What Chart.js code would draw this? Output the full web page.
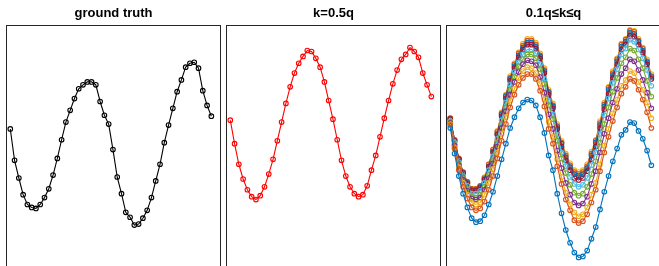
<!DOCTYPE html>
<html>
<head>
<meta charset="utf-8">
<script src="https://cdn.jsdelivr.net/npm/chart.js@4/dist/chart.umd.min.js"></script>
<style>
  html, body { margin: 0; padding: 0; background: #fff; overflow: hidden; width: 659px; height: 266px; }
  .panel { position: absolute; top: 0; }
</style>
</head>
<body>
<canvas id="c1" class="panel" style="left:0px" width="225" height="290"></canvas>
<canvas id="c2" class="panel" style="left:220px" width="225" height="290"></canvas>
<canvas id="c3" class="panel" style="left:440px" width="225" height="290"></canvas>
<script>
// ---- data ----
const titles = ["ground truth", "k=0.5q", "0.1q\u2264k\u2264q"];
const xIndex = [1,2,3,4,5,6,7,8,9,10,11,12,13,14,15,16,17,18,19,20,21,22,23,24,25,26,27,28,29,30,31,32,33,34,35,36,37,38,39,40,41,42,43,44,45,46,47,48];

const groundTruth = [1.35,1.03,0.85,0.68,0.58,0.55,0.54,0.58,0.65,0.74,0.88,1.05,1.24,1.42,1.54,1.66,1.76,1.80,1.83,1.83,1.80,1.63,1.49,1.40,1.14,0.86,0.69,0.50,0.45,0.37,0.38,0.44,0.52,0.65,0.82,0.99,1.21,1.39,1.56,1.73,1.85,1.98,2.02,2.03,1.97,1.74,1.59,1.48];

const kHalf = [1.44,1.20,0.99,0.84,0.73,0.66,0.63,0.67,0.76,0.89,1.04,1.23,1.42,1.61,1.78,1.92,2.02,2.09,2.15,2.14,2.07,1.98,1.83,1.64,1.45,1.24,1.03,0.87,0.76,0.69,0.66,0.68,0.77,0.93,1.08,1.27,1.46,1.64,1.81,1.95,2.06,2.11,2.18,2.14,2.08,1.92,1.80,1.68];

const k01 = [1.36,1.10,0.87,0.69,0.55,0.44,0.40,0.41,0.47,0.58,0.71,0.87,1.04,1.20,1.36,1.47,1.56,1.62,1.65,1.64,1.59,1.47,1.31,1.08,0.93,0.69,0.49,0.32,0.19,0.09,0.04,0.05,0.11,0.23,0.35,0.53,0.71,0.87,1.02,1.15,1.29,1.34,1.42,1.41,1.33,1.25,1.13,0.98];
const k02 = [1.39,1.15,0.93,0.76,0.64,0.55,0.52,0.54,0.61,0.73,0.87,1.05,1.23,1.40,1.57,1.70,1.80,1.87,1.91,1.91,1.86,1.74,1.58,1.35,1.20,0.97,0.79,0.63,0.52,0.42,0.39,0.41,0.48,0.60,0.73,0.92,1.11,1.27,1.43,1.57,1.71,1.78,1.86,1.84,1.75,1.65,1.52,1.36];
const k03 = [1.40,1.16,0.96,0.80,0.68,0.60,0.58,0.60,0.68,0.80,0.94,1.11,1.30,1.47,1.64,1.76,1.87,1.94,1.98,1.97,1.92,1.81,1.65,1.42,1.27,1.04,0.86,0.70,0.58,0.50,0.46,0.48,0.55,0.68,0.80,0.99,1.18,1.35,1.51,1.65,1.79,1.85,1.94,1.92,1.83,1.75,1.62,1.46];
const k04 = [1.41,1.18,0.98,0.83,0.72,0.64,0.63,0.65,0.73,0.85,1.00,1.17,1.36,1.53,1.70,1.83,1.93,2.01,2.05,2.04,2.00,1.88,1.72,1.50,1.35,1.13,0.95,0.80,0.68,0.60,0.57,0.59,0.66,0.79,0.92,1.11,1.30,1.46,1.62,1.76,1.91,1.97,2.06,2.04,1.95,1.85,1.72,1.56];
const k05 = [1.42,1.19,0.99,0.85,0.74,0.66,0.65,0.68,0.76,0.88,1.03,1.21,1.40,1.57,1.75,1.88,1.99,2.06,2.11,2.11,2.07,1.96,1.81,1.59,1.45,1.23,1.05,0.90,0.78,0.70,0.67,0.69,0.76,0.89,1.02,1.21,1.40,1.57,1.73,1.87,2.02,2.08,2.17,2.15,2.06,1.97,1.84,1.68];
const k06 = [1.43,1.21,1.01,0.87,0.77,0.69,0.69,0.72,0.80,0.93,1.07,1.25,1.44,1.62,1.80,1.93,2.03,2.11,2.16,2.16,2.12,2.01,1.86,1.64,1.50,1.29,1.11,0.97,0.86,0.79,0.76,0.78,0.85,0.98,1.11,1.30,1.49,1.66,1.82,1.96,2.11,2.17,2.26,2.24,2.16,2.07,1.95,1.79];
const k07 = [1.45,1.23,1.04,0.90,0.79,0.72,0.72,0.75,0.83,0.96,1.11,1.29,1.48,1.66,1.84,1.97,2.08,2.16,2.21,2.21,2.17,2.07,1.92,1.70,1.56,1.35,1.17,1.03,0.93,0.85,0.83,0.85,0.92,1.04,1.17,1.36,1.55,1.71,1.87,2.01,2.16,2.21,2.30,2.29,2.21,2.13,2.01,1.86];
const k08 = [1.45,1.23,1.04,0.90,0.80,0.73,0.73,0.76,0.84,0.97,1.12,1.30,1.50,1.68,1.86,1.99,2.10,2.18,2.23,2.23,2.19,2.09,1.94,1.72,1.58,1.37,1.20,1.06,0.96,0.89,0.87,0.89,0.95,1.08,1.21,1.39,1.58,1.75,1.90,2.04,2.19,2.24,2.33,2.32,2.24,2.15,2.03,1.88];
const k09 = [1.46,1.24,1.05,0.91,0.81,0.74,0.74,0.77,0.85,0.99,1.14,1.32,1.51,1.69,1.87,2.01,2.12,2.20,2.25,2.25,2.21,2.10,1.95,1.73,1.59,1.38,1.21,1.08,0.98,0.91,0.89,0.91,0.97,1.10,1.23,1.41,1.60,1.77,1.92,2.06,2.21,2.26,2.35,2.34,2.25,2.17,2.04,1.89];
const k10 = [1.46,1.24,1.05,0.91,0.81,0.74,0.74,0.77,0.86,0.99,1.14,1.33,1.52,1.70,1.89,2.02,2.13,2.22,2.27,2.27,2.23,2.12,1.97,1.75,1.61,1.40,1.23,1.10,1.00,0.93,0.91,0.93,0.99,1.12,1.24,1.43,1.62,1.78,1.94,2.07,2.22,2.27,2.36,2.35,2.27,2.18,2.06,1.91];

const kSeries = [k01,k02,k03,k04,k05,k06,k07,k08,k09,k10];
const kColors = ["#0072BD","#D95319","#EDB120","#7E2F8E","#77AC30","#4DBEEE","#A2142F","#0072BD","#D95319","#EDB120"];

// ---- drawing ----
const boxPlugin = {
  id: 'box',
  afterDraw(chart) {
    const a = chart.chartArea, ctx = chart.ctx;
    ctx.save();
    ctx.strokeStyle = '#262626';
    ctx.lineWidth = 1;
    const l = Math.round(a.left) + 0.5, t = Math.round(a.top) + 0.5;
    ctx.strokeRect(l, t, Math.round(a.right) - Math.round(a.left), Math.round(a.bottom) - Math.round(a.top));
    ctx.restore();
  }
};

function mkDataset(values, color) {
  return {
    data: xIndex.map((x, i) => ({ x: x, y: values[i] })),
    borderColor: color,
    backgroundColor: 'rgba(0,0,0,0)',
    borderWidth: 1.1,
    pointRadius: 2.3,
    pointBorderWidth: 1.1,
    pointBorderColor: color,
    pointBackgroundColor: 'rgba(0,0,0,0)',
    tension: 0,
    fill: false
  };
}

function mkChart(id, title, datasets) {
  return new Chart(document.getElementById(id), {
    type: 'line',
    data: { datasets: datasets },
    options: {
      responsive: false,
      animation: false,
      devicePixelRatio: 1,
      layout: { padding: { left: 6, right: 4, top: 0, bottom: 0 } },
      plugins: {
        legend: { display: false },
        tooltip: { enabled: false },
        title: {
          display: true,
          text: title,
          color: '#000',
          font: { family: "'Liberation Sans', Arial, sans-serif", size: 13, weight: 'bold' },
          padding: { top: 6, bottom: 3.4 }
        }
      },
      scales: {
        x: { type: 'linear', min: 0, max: 50, display: false },
        y: { type: 'linear', min: -0.24, max: 2.41, display: false }
      }
    },
    plugins: [boxPlugin]
  });
}

mkChart('c1', titles[0], [mkDataset(groundTruth, '#000000')]);
mkChart('c2', titles[1], [mkDataset(kHalf, '#FF0000')]);
mkChart('c3', titles[2], kSeries.map((s, i) => mkDataset(s, kColors[i])));
</script>
</body>
</html>
